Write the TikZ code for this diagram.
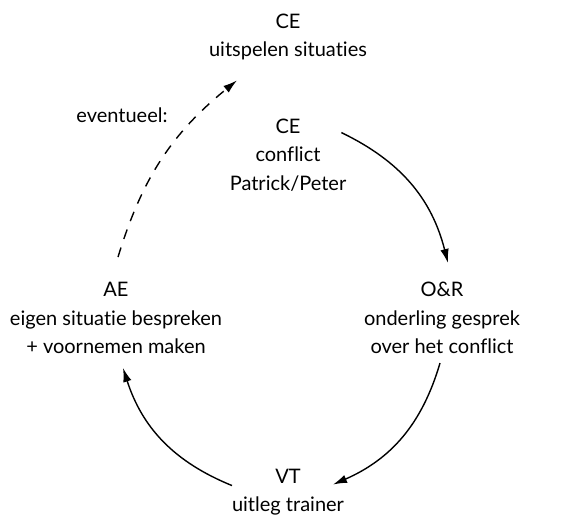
\documentclass[tikz,border=0pt]{standalone}
\usepackage{fontspec}
\setmainfont{Lato}[Ligatures={NoCommon}]
\usepackage{tikz}
\usetikzlibrary{positioning, arrows.meta}
\tikzset{S/.style={align=center, inner sep=0pt, font=\fontsize{20}{28.5}\selectfont}}
\tikzset{C/.style={-{Latex[length=14pt, width=8.5pt]}, line width=1.4pt, bend left=#1}}

\begin{document}
\begin{tikzpicture}[x=1pt, y=1pt, auto]
\useasboundingbox (0,0) rectangle (572,-517);
\node (CEtop) [S] at (288,-37) {CE\\uitspelen situaties};
\node (CEmid) [S] at (288,-155) {CE\\conflict\\Patrick/Peter};
\node (OR) [S] at (442,-318) {O\&R\\onderling gesprek\\over het conflict};
\node (VT) [S] at (288,-492) {VT\\uitleg trainer};
\node (AE) [S] at (116,-318) {AE\\eigen situatie bespreken\\+ voornemen maken};
\node (EV) [S] at (122,-115) {eventueel:};
%
\path ([xshift=-5pt, yshift=-14pt]CEmid.north east) edge [C=25] ([xshift=6pt, yshift=19pt]OR.north);
\path ([xshift=-2pt, yshift=-9pt]OR.south) edge [C=25] ([xshift=45pt, yshift=-16pt]VT.north);
\path ([xshift=-56pt, yshift=-17pt]VT.north) edge [C=25] ([xshift=7pt, yshift=-14pt]AE.south);
\path ([xshift=2pt, yshift=25pt]AE.north) edge [C=17, dash pattern=on 10pt off 9pt] ([xshift=-51pt, yshift=-20pt]CEtop.south);
\end{tikzpicture}
\end{document}
